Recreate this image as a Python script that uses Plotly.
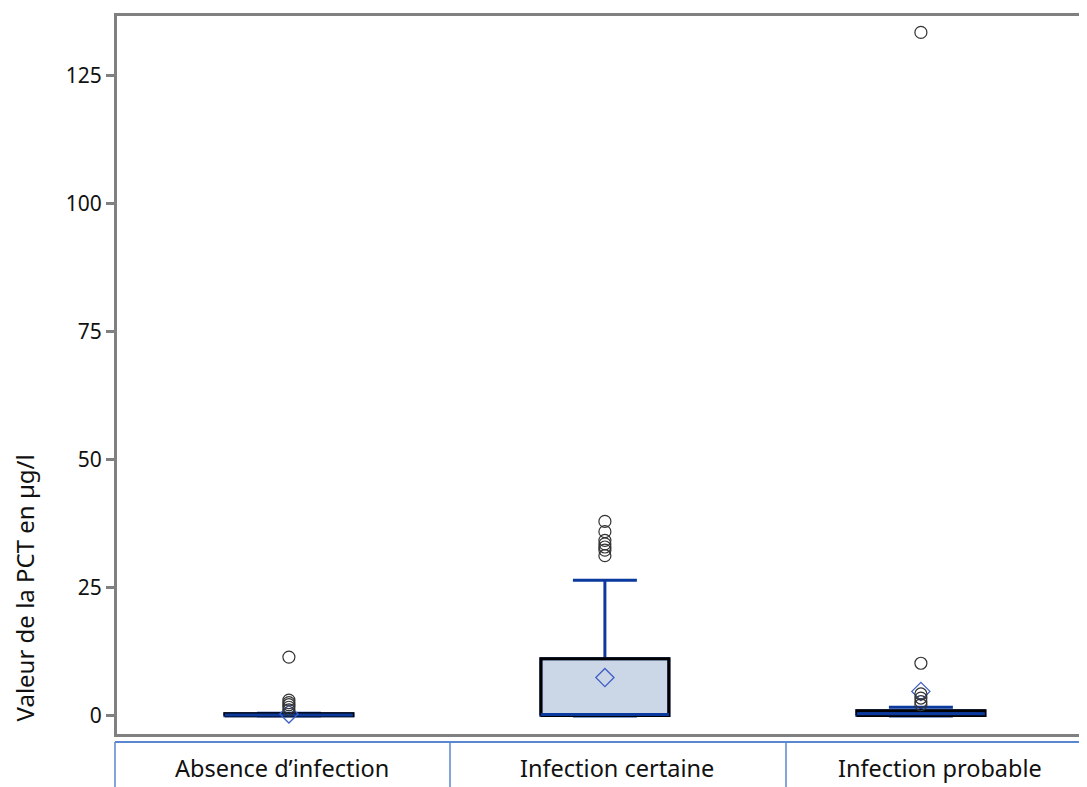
import plotly.graph_objects as go

categories = ["Absence d\u2019infection", "Infection certaine", "Infection probable"]
q1 = [0.05, 0.1, 0.1]
median = [0.2, 0.3, 0.45]
q3 = [0.45, 11.2, 1.0]
lowerfence = [0.0, 0.0, 0.0]
upperfence = [0.55, 26.5, 1.7]
means = [0.4, 7.5, 4.8]
outliers = [
    [11.5, 3.1, 2.6, 2.2, 1.7, 1.2],
    [38.0, 36.0, 34.3, 33.6, 33.0, 32.4, 31.3],
    [133.5, 10.3, 4.3, 3.5, 2.8, 2.2],
]
yticks = [0, 25, 50, 75, 100, 125]

BLUE = "#0b3a9e"
FILL = "#cbd6e6"
BOXW = 0.405
FONT = "Noto Sans"

fig = go.Figure()
xs = list(range(len(categories)))

fig.add_trace(go.Box(
    x=xs, q1=q1, median=median, q3=q3,
    lowerfence=lowerfence, upperfence=upperfence,
    width=BOXW, whiskerwidth=0.5, fillcolor=FILL,
    line=dict(color=BLUE, width=3), boxpoints=False,
    showlegend=False, hoverinfo="skip",
))

for i in xs:
    h = BOXW / 2
    fig.add_trace(go.Scatter(
        x=[i - h, i + h, i + h, i - h, i - h],
        y=[q1[i], q1[i], q3[i], q3[i], q1[i]],
        mode="lines", line=dict(color="black", width=3),
        showlegend=False, hoverinfo="skip",
    ))
    fig.add_trace(go.Scatter(
        x=[i - h, i + h], y=[median[i], median[i]],
        mode="lines", line=dict(color=BLUE, width=3),
        showlegend=False, hoverinfo="skip",
    ))

fig.add_trace(go.Scatter(
    x=xs, y=means, mode="markers",
    marker=dict(symbol="diamond-open", size=14, color="#3f5fc4", line=dict(width=1.3)),
    showlegend=False, hoverinfo="skip",
))

for i in xs:
    fig.add_trace(go.Scatter(
        x=[i] * len(outliers[i]), y=outliers[i], mode="markers",
        marker=dict(symbol="circle-open", size=12, color="#333333", line=dict(width=1.2)),
        showlegend=False, hoverinfo="skip",
    ))

# page offset of the plotly div inside the browser body
OX, OY = 8, 7
W, H = 1092, 780
PL, PT, PB, PR = 117, 15, 733, 1100  # plot area in page pixels (right edge beyond window)
L, T = PL - OX, PT - OY
B = H - (PB - OY)
R = W - (PR - OX)
pw = PR - PL
ph = PB - PT
PX_PER_CAT = 316
X_LO = -0.544
X_HI = X_LO + pw / PX_PER_CAT

def px_x(x):
    return (x - PL) / pw

def px_y(y):
    return (PB - y) / ph

shapes = []
LINEC = "#5a87d0"
shapes.append(dict(type="line", xref="paper", yref="paper", x0=px_x(115), x1=px_x(1100),
                   y0=px_y(741), y1=px_y(741), line=dict(color=LINEC, width=2)))
for xv in [115, 450, 786]:
    shapes.append(dict(type="line", xref="paper", yref="paper", x0=px_x(xv), x1=px_x(xv),
                       y0=px_y(741), y1=px_y(800), line=dict(color=LINEC, width=1.5)))

annotations = []
for lab, cx in zip(categories, [282, 617, 940]):
    annotations.append(dict(text=lab, xref="paper", yref="paper", x=px_x(cx), y=px_y(767),
                            xanchor="center", yanchor="middle", showarrow=False,
                            font=dict(family=FONT, size=23.5, color="#111111")))
annotations.append(dict(text="Valeur de la PCT en \u00b5g/l", xref="paper", yref="paper",
                        x=px_x(24), y=px_y(723), textangle=-90, xanchor="center", yanchor="bottom",
                        showarrow=False, font=dict(family=FONT, size=24, color="#111111")))

fig.update_layout(
    width=W, height=H,
    margin=dict(l=L, r=R, t=T, b=B),
    paper_bgcolor="white", plot_bgcolor="white",
    shapes=shapes, annotations=annotations,
    xaxis=dict(range=[X_LO, X_HI], showgrid=False, zeroline=False,
               showticklabels=False, ticks="",
               showline=True, mirror=True, linecolor="#808080", linewidth=3),
    yaxis=dict(range=[-3.52, 136.7], tickvals=yticks, showgrid=False, zeroline=False,
               ticks="outside", ticklen=8, tickwidth=3, tickcolor="#808080",
               showline=True, linecolor="#808080", linewidth=3,
               tickfont=dict(family=FONT, size=21, color="#111111")),
)

fig.write_html("out.html")
